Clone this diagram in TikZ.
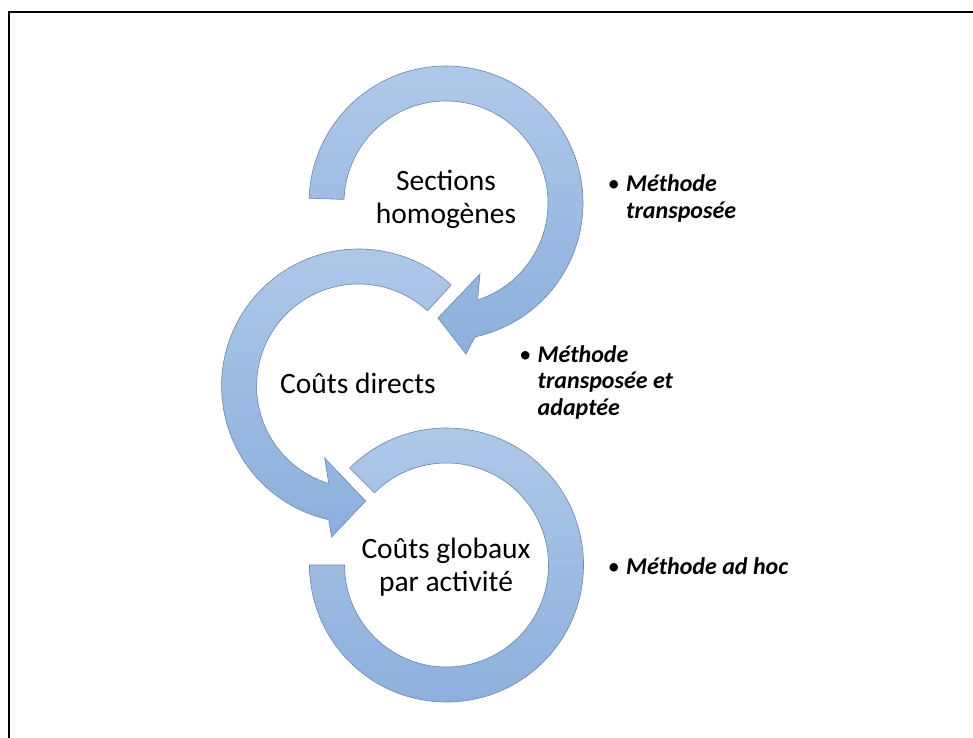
\documentclass[tikz,border=0pt]{standalone}
\usepackage{fontspec}
\setmainfont{Carlito}
\usetikzlibrary{positioning}
\definecolor{ringtop}{RGB}{176,201,233}
\definecolor{ringbot}{RGB}{139,175,222}
\definecolor{ringedge}{RGB}{112,132,162}
\begin{document}
\begin{tikzpicture}[x=1pt, y=1pt,
  ring/.style={draw=ringedge, line width=0.6pt, top color=ringtop, bottom color=ringbot},
  lab/.style={align=center, font=\fontsize{29.5}{33}\selectfont, inner sep=0pt},
  meth/.style={font=\fontsize{24}{26.5}\selectfont\bfseries\itshape, inner sep=0pt},
  bul/.style={font=\fontsize{24}{26.5}\selectfont, inner sep=0pt}]
\clip (0,0) rectangle (973,737);
\draw[line width=2.5pt] (9,-10) -- (9,725) -- (990,725);
\coordinate (c1) at (446,534);
\coordinate (c2) at (358.6,351);
\coordinate (c3) at (446.5,172);
\begin{scope}[shift={(c1)}]
\path[ring] (178:137) arc[start angle=178, end angle=-77.8, radius=137] -- (20,-151) -- (-8,-115)
  -- (34,-71) -- (-72:102) arc[start angle=-72, end angle=178, radius=102] -- cycle;
\end{scope}
\begin{scope}[shift={(c2)}]
\path[ring] (47.5:137) arc[start angle=47.5, end angle=257.4, radius=137] -- (-27,-151) -- (7,-115)
  -- (-34,-72) -- (253:102) arc[start angle=253, end angle=47.5, radius=102] -- cycle;
\end{scope}
\begin{scope}[shift={(c3)}]
\path[ring] (135:137) arc[start angle=135, end angle=-180, radius=137]
  -- (180:102) arc[start angle=-180, end angle=135, radius=102] -- cycle;
\end{scope}
\node[lab] (sh) at (446,538) {Sections\\homogènes};
\node[lab] (cd) at (358,354) {Coûts directs};
\node[lab] (cg) at (446,170) {Coûts globaux\\par activité};
\node[meth, anchor=base west] (m1) at (626,545)
  {\begin{tabular}[t]{@{}l@{}}Méthode\\transposée\end{tabular}};
\node[bul, anchor=base east] (b1) at ([xshift=-6pt]m1.base west) {\textbullet};
\node[meth, anchor=base west] (m2) at (537.5,375)
  {\begin{tabular}[t]{@{}l@{}}Méthode\\transposée et\\adaptée\end{tabular}};
\node[bul, anchor=base east] (b2) at ([xshift=-6pt]m2.base west) {\textbullet};
\node[meth, anchor=base west] (m3) at (626,163) {Méthode ad hoc};
\node[bul, anchor=base east] (b3) at ([xshift=-6pt]m3.base west) {\textbullet};
\end{tikzpicture}
\end{document}
